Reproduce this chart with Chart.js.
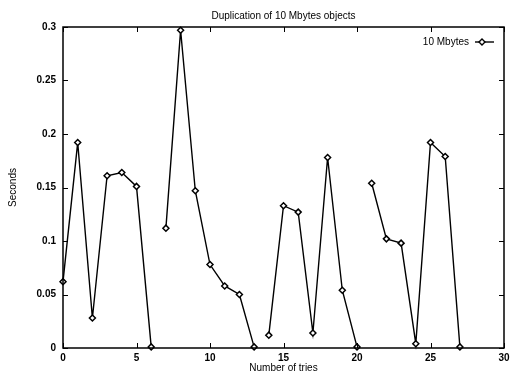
<!DOCTYPE html>
<html lang="en">
<head>
  <meta charset="UTF-8" />
  <title>Duplication of 10 Mbytes objects</title>
  <script src="https://cdn.jsdelivr.net/npm/chart.js"></script>
  <style>
    html, body { margin: 0; padding: 0; background: #fff; }
    #wrap { width: 510px; height: 372px; }
  </style>
</head>
<body>
  <div id="wrap"><canvas id="dupChart" width="510" height="372"></canvas></div>

  <script>
    // measured times per try (seconds)
    const tries = [0, 1, 2, 3, 4, 5, 6, 7, 8, 9, 10, 11, 12, 13, 14, 15, 16, 17, 18, 19, 20, 21, 22, 23, 24, 25, 26, 27];
    const seconds = [0.062, 0.192, 0.028, 0.161, 0.164, 0.151, 0.001, 0.112, 0.297, 0.147,
                     0.078, 0.058, 0.050, 0.001, 0.012, 0.133, 0.127, 0.014, 0.178, 0.054,
                     0.001, 0.154, 0.102, 0.098, 0.004, 0.192, 0.179, 0.001];
    // the line is not drawn between a try and the next one
    const breakAfter = [6, 13, 20];
    const xTicks = [0, 5, 10, 15, 20, 25, 30];
    const yTicks = [0, 0.05, 0.1, 0.15, 0.2, 0.25, 0.3];
    const seriesName = '10 Mbytes';
    const chartTitle = 'Duplication of 10 Mbytes objects';

    const FONT = '"Liberation Sans", Arial, Helvetica, sans-serif';

    // gnuplot-like frame: full box, inward ticks, title and key inside the plot
    const framePlugin = {
      id: 'frame',
      afterDraw(chart) {
        const { ctx, chartArea: a, scales } = chart;
        const tl = 5;
        ctx.save();
        ctx.strokeStyle = '#000';
        ctx.lineWidth = 1.5;
        ctx.strokeRect(a.left, a.top, a.right - a.left, a.bottom - a.top);
        ctx.lineWidth = 1;
        ctx.beginPath();
        xTicks.forEach(v => {
          const x = Math.round(scales.x.getPixelForValue(v)) + 0.5;
          ctx.moveTo(x, a.bottom); ctx.lineTo(x, a.bottom - tl);
          ctx.moveTo(x, a.top); ctx.lineTo(x, a.top + tl);
        });
        yTicks.forEach(v => {
          const y = Math.round(scales.y.getPixelForValue(v)) + 0.5;
          ctx.moveTo(a.left, y); ctx.lineTo(a.left + tl, y);
          ctx.moveTo(a.right, y); ctx.lineTo(a.right - tl, y);
        });
        ctx.stroke();

        // title, centred over the plot
        ctx.fillStyle = '#000';
        ctx.font = '10px ' + FONT;
        ctx.textAlign = 'center';
        ctx.textBaseline = 'middle';
        ctx.fillText(chartTitle, (a.left + a.right) / 2, 16);

        // key
        const ky = 42;
        ctx.textAlign = 'right';
        ctx.fillText(seriesName, 469, ky);
        ctx.lineWidth = 1.4;
        ctx.beginPath();
        ctx.moveTo(475, ky); ctx.lineTo(494, ky);
        ctx.stroke();
        ctx.beginPath();
        ctx.moveTo(482, ky - 3); ctx.lineTo(485, ky); ctx.lineTo(482, ky + 3); ctx.lineTo(479, ky);
        ctx.closePath();
        ctx.fillStyle = '#fff';
        ctx.fill();
        ctx.stroke();
        ctx.restore();
      }
    };

    new Chart(document.getElementById('dupChart'), {
      type: 'line',
      data: {
        datasets: [{
          label: seriesName,
          data: tries.map((t, i) => ({ x: t, y: seconds[i] })),
          borderColor: '#000',
          borderWidth: 1.4,
          tension: 0,
          pointStyle: 'rectRot',
          pointRadius: 3,
          pointBorderWidth: 1.5,
          pointBorderColor: '#000',
          pointBackgroundColor: '#fff',
          segment: {
            borderColor: c => breakAfter.includes(c.p0.parsed.x) ? 'rgba(0,0,0,0)' : '#000'
          }
        }]
      },
      options: {
        responsive: false,
        animation: false,
        clip: false,
        layout: { padding: { top: 27, right: 6, bottom: 0, left: 0 } },
        plugins: {
          legend: { display: false },
          title: { display: false },
          tooltip: { enabled: false }
        },
        scales: {
          x: {
            type: 'linear',
            min: 0,
            max: 30,
            afterBuildTicks: s => { s.ticks = xTicks.map(v => ({ value: v })); },
            afterFit: s => { s.height = 24; s.paddingLeft = 0; s.paddingRight = 0; },
            grid: { display: false, drawTicks: false },
            border: { display: false },
            ticks: {
              color: '#000',
              padding: 4,
              maxRotation: 0,
              font: { family: FONT, size: 10, weight: 'bold' }
            },
            title: {
              display: true,
              text: 'Number of tries',
              color: '#000',
              padding: { top: 0, bottom: 0 },
              font: { family: FONT, size: 10, lineHeight: 0.8 }
            }
          },
          y: {
            min: 0,
            max: 0.3,
            afterBuildTicks: s => { s.ticks = yTicks.map(v => ({ value: v })); },
            afterFit: s => { s.width = 63; s.paddingTop = 0; s.paddingBottom = 0; },
            grid: { display: false, drawTicks: false },
            border: { display: false },
            ticks: {
              color: '#000',
              padding: 7,
              font: { family: FONT, size: 10, weight: 'bold' },
              callback: v => String(+v.toFixed(2))
            },
            title: {
              display: true,
              text: 'Seconds',
              color: '#000',
              padding: { top: 7, bottom: 0 },
              font: { family: FONT, size: 10 }
            }
          }
        }
      },
      plugins: [framePlugin]
    });
  </script>
</body>
</html>
